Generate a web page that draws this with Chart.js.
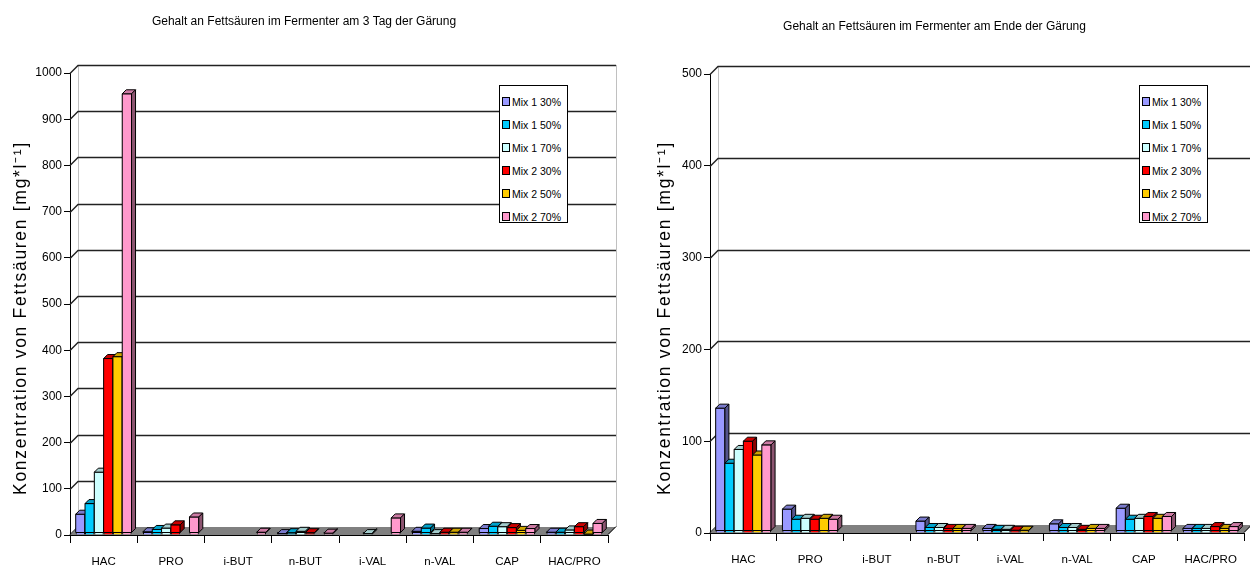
<!DOCTYPE html>
<html><head><meta charset="utf-8">
<script src="https://cdn.jsdelivr.net/npm/chart.js@4.4.0/dist/chart.umd.min.js"></script>
<style>
html,body{margin:0;padding:0;background:#fff;}
#wrap{position:relative;width:1250px;height:569px;overflow:hidden;background:#fff;}
canvas{position:absolute;top:0;}
.legend{position:absolute;border:1px solid #000;background:#fff;font-family:"Liberation Sans",Arial,sans-serif;font-size:10.5px;color:#000;box-sizing:border-box;padding-top:4px;}
.legend .it{height:23px;line-height:16px;white-space:nowrap;display:flex;align-items:center;padding-left:2px;}
.legend .sw{width:6px;height:7px;border:1px solid #000;margin-right:2px;display:inline-block;}
</style></head>
<body>
<div id="wrap">
<canvas id="c1" width="625" height="569" style="left:0"></canvas>
<canvas id="c2" width="625" height="569" style="left:625px"></canvas>
<div class="legend" id="lg1" style="left:499px;top:85px;width:69px;height:138px"></div>
<div class="legend" id="lg2" style="left:1139px;top:85px;width:69px;height:138px"></div>
</div>
<script>
const categories = ['HAC','PRO','i-BUT','n-BUT','i-VAL','n-VAL','CAP','HAC/PRO'];
const seriesNames = ['Mix 1 30%','Mix 1 50%','Mix 1 70%','Mix 2 30%','Mix 2 50%','Mix 2 70%'];
const seriesColors = ['#9999FF','#00CCFF','#CCFFFF','#FF0000','#FFCC00','#FF99CC'];

const titleDay3 = 'Gehalt an Fettsäuren im Fermenter am 3 Tag der Gärung';
const titleEnd = 'Gehalt an Fettsäuren im Fermenter am Ende der Gärung';
const axisTitle = 'Konzentration von Fettsäuren [mg*l\u207B\u00B9]';

// Day 3 values
const mix1_30_day3 = [45, 7, null, 3, null, 8, 14, 6];
const mix1_50_day3 = [68, 12, null, 5, null, 15, 19, 6];
const mix1_70_day3 = [136, 15, null, 8, 3, 3, 18, 11];
const mix2_30_day3 = [382, 22, null, 5, null, 6, 16, 18];
const mix2_50_day3 = [386, null, null, null, null, 6, 10, 2];
const mix2_70_day3 = [955, 39, 6, 4, 37, 6, 14, 25];

// End of fermentation values
const mix1_30_end = [136, 26, null, 13, 5, 10, 27, 5];
const mix1_50_end = [76, 15, null, 6, 4, 6, 15, 5];
const mix1_70_end = [91, 16, null, 6, 4, 6, 16, 5];
const mix2_30_end = [100, 15, null, 5, 3, 4, 18, 7];
const mix2_50_end = [85, 16, null, 5, 3, 5, 16, 5];
const mix2_70_end = [96, 15, null, 5, null, 5, 18, 7];

const yTicksDay3 = {max: 1000, step: 100};
const yTicksEnd = {max: 500, step: 100};

const FONT = '"Liberation Sans", Arial, sans-serif';
const D = 8;   // wall depth
const BD = 4;  // bar depth

function shade(hex, f){
  const n = parseInt(hex.slice(1),16);
  const r = Math.round(((n>>16)&255)*f), g = Math.round(((n>>8)&255)*f), b = Math.round((n&255)*f);
  return 'rgb('+r+','+g+','+b+')';
}

const wallPlugin = {
  id:'wall',
  beforeDatasetsDraw(chart){
    const ctx = chart.ctx, {left:L,right:R,bottom:B} = chart.chartArea, ys = chart.scales.y;
    const topY = ys.getPixelForValue(ys.max);
    ctx.save();
    ctx.strokeStyle = '#c0c0c0'; ctx.lineWidth = 1;
    ctx.beginPath(); ctx.moveTo(L+D+0.5, B-D); ctx.lineTo(L+D+0.5, topY-D); ctx.stroke();
    ctx.beginPath(); ctx.moveTo(R+D+0.5, B-D); ctx.lineTo(R+D+0.5, topY-D); ctx.stroke();
    ctx.strokeStyle = '#222'; ctx.lineWidth = 1.4;
    ys.ticks.forEach(t => {
      if (t.value === 0) return;
      const y = Math.round(ys.getPixelForValue(t.value)) + 0.5;
      ctx.beginPath(); ctx.moveTo(L, y); ctx.lineTo(L+D, y-D); ctx.lineTo(R+D, y-D); ctx.stroke();
    });
    ctx.fillStyle = '#808080';
    ctx.beginPath(); ctx.moveTo(L,B); ctx.lineTo(L+D,B-D); ctx.lineTo(R+D,B-D); ctx.lineTo(R,B); ctx.closePath(); ctx.fill();
    ctx.strokeStyle = '#000'; ctx.lineWidth = 1;
    ctx.beginPath(); ctx.moveTo(L,B-0.5); ctx.lineTo(L+D,B-D-0.5); ctx.stroke();
    ctx.beginPath(); ctx.moveTo(R,B-0.5); ctx.lineTo(R+D,B-D-0.5); ctx.stroke();
    ctx.restore();
  }
};

const bar3dPlugin = {
  id:'bar3d',
  afterDatasetsDraw(chart){
    const ctx = chart.ctx;
    ctx.save();
    ctx.lineWidth = 1; ctx.strokeStyle = '#000'; ctx.lineJoin = 'round';
    const n = chart.data.labels.length;
    for (let j=0;j<n;j++){
      chart.data.datasets.forEach((ds,i) => {
        const v = ds.data[j];
        if (v === null || v === undefined) return;
        const el = chart.getDatasetMeta(i).data[j];
        const x0 = el.x - el.width/2, x1 = el.x + el.width/2, yt = el.y, yb = el.base - 2;
        const c = seriesColors[i];
        ctx.fillStyle = c;
        ctx.beginPath(); ctx.rect(x0, yt, x1-x0, yb-yt); ctx.fill(); ctx.stroke();
        ctx.fillStyle = shade(c, 0.8);
        ctx.beginPath(); ctx.moveTo(x0,yt); ctx.lineTo(x0+BD,yt-BD); ctx.lineTo(x1+BD,yt-BD); ctx.lineTo(x1,yt); ctx.closePath(); ctx.fill(); ctx.stroke();
        ctx.fillStyle = shade(c, 0.55);
        ctx.beginPath(); ctx.moveTo(x1,yt); ctx.lineTo(x1+BD,yt-BD); ctx.lineTo(x1+BD,yb-BD); ctx.lineTo(x1,yb); ctx.closePath(); ctx.fill(); ctx.stroke();
      });
    }
    ctx.restore();
  }
};

function axisTitlePlugin(x, y){
  return {
    id:'axisTitle',
    afterDraw(chart){
      const ctx = chart.ctx;
      ctx.save();
      ctx.translate(x, y); ctx.rotate(-Math.PI/2);
      ctx.font = '17.5px ' + FONT; ctx.fillStyle = '#000';
      if ('letterSpacing' in ctx) ctx.letterSpacing = '1.7px';
      ctx.textAlign = 'center'; ctx.textBaseline = 'middle';
      ctx.fillText(axisTitle, 0, 0);
      ctx.restore();
    }
  };
}

function makeChart(id, cfg){
  return new Chart(document.getElementById(id), {
    type:'bar',
    data:{
      labels: categories,
      datasets: seriesNames.map((name,i) => ({
        label: name, data: cfg.data[i], backgroundColor: seriesColors[i],
        borderColor:'#000', borderWidth:1, categoryPercentage:0.83, barPercentage:1
      }))
    },
    options:{
      responsive:false, animation:false, devicePixelRatio:1,
      layout:{padding:{left:0,right:cfg.padRight,top:0,bottom:0}},
      plugins:{
        legend:{display:false}, tooltip:{enabled:false},
        title:{display:true, text:cfg.title, color:'#000', font:{family:FONT,size:12,weight:'normal',lineHeight:1.2}, padding:{top:cfg.titleTop,bottom:cfg.titleBottom}}
      },
      scales:{
        x:{
          grid:{offset:true, drawOnChartArea:false, drawTicks:true, tickLength:8, color:'#000'},
          border:{display:true, color:'#000', width:1},
          ticks:{color:'#000', font:{family:FONT,size:11.5}, padding:12, maxRotation:0, autoSkip:false},
          afterFit(s){ s.height = cfg.xH; }
        },
        y:{
          min:0, max:cfg.yTicks.max,
          ticks:{stepSize:cfg.yTicks.step, color:'#000', font:{family:FONT,size:12}, padding:2, callback:v => String(v)},
          grid:{drawOnChartArea:false, tickLength:6, color:'#000'},
          border:{display:true, color:'#000', width:1},
          afterFit(s){ s.width = cfg.yW; }
        }
      }
    },
    plugins:[wallPlugin, bar3dPlugin, axisTitlePlugin(cfg.atX, cfg.atY)]
  });
}

makeChart('c1', {
  data:[mix1_30_day3, mix1_50_day3, mix1_70_day3, mix2_30_day3, mix2_50_day3, mix2_70_day3],
  title:titleDay3, yTicks:yTicksDay3, padRight:17, titleTop:14, titleBottom:44.6, xH:34, yW:70, atX:21, atY:318
});
makeChart('c2', {
  data:[mix1_30_end, mix1_50_end, mix1_70_end, mix2_30_end, mix2_50_end, mix2_70_end],
  title:titleEnd, yTicks:yTicksEnd, padRight:6, titleTop:19, titleBottom:40.6, xH:36, yW:85, atX:40, atY:318
});

function buildLegend(id){
  const el = document.getElementById(id);
  seriesNames.forEach((n,i) => {
    const it = document.createElement('div'); it.className = 'it';
    const sw = document.createElement('span'); sw.className = 'sw'; sw.style.background = seriesColors[i];
    const tx = document.createElement('span'); tx.textContent = n;
    it.appendChild(sw); it.appendChild(tx); el.appendChild(it);
  });
}
buildLegend('lg1'); buildLegend('lg2');
</script>
</body></html>
